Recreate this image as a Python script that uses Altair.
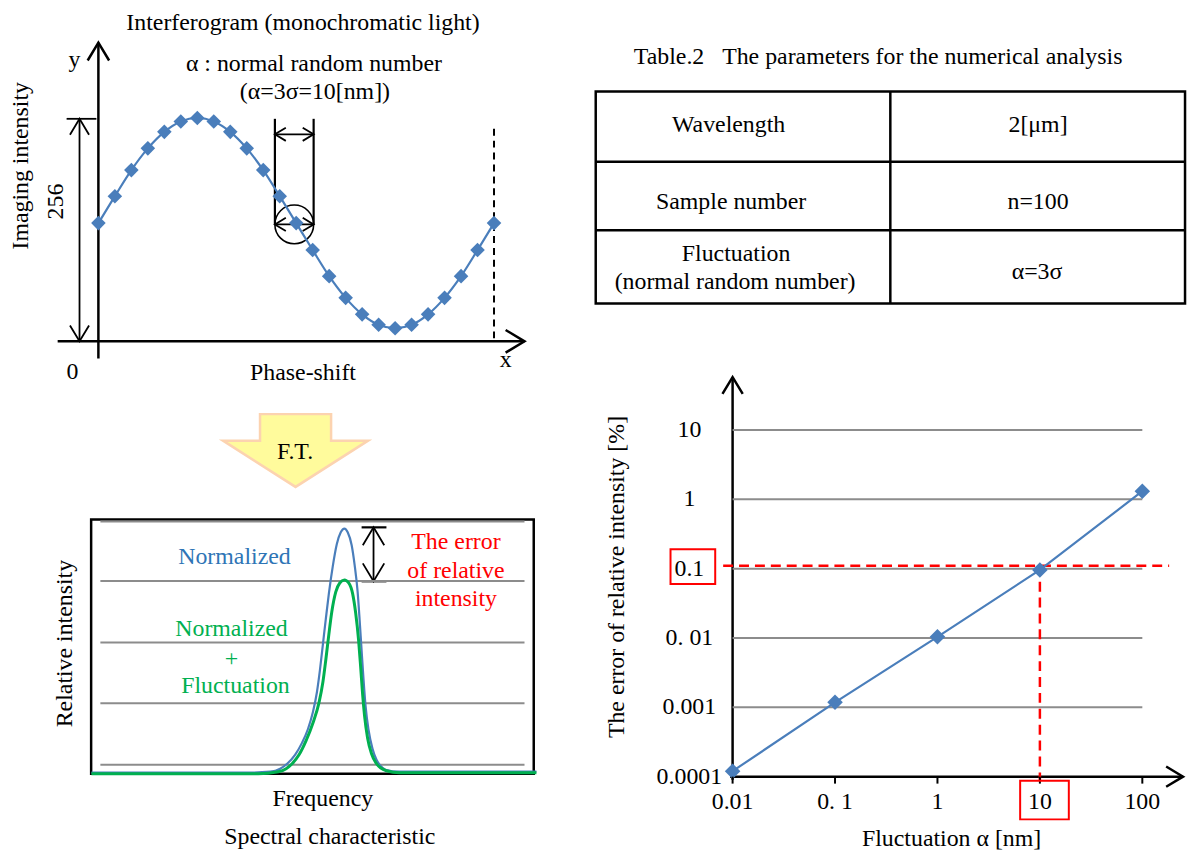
import altair as alt
import pandas as pd

FONT = "Liberation Serif"
BLUE = "#4A7EBB"
GREEN = "#00B050"
RED = "#FF0000"
GRIDC = "#8C8C8C"
TXT_BLUE = "#2E75B6"

# ---------------- data ----------------
# Interferogram (monochromatic light): sampled imaging intensity (0-256 scale)
phase_step = [0, 1, 2, 3, 4, 5, 6, 7, 8, 9, 10, 11, 12, 13, 14, 15, 16, 17, 18, 19, 20, 21, 22, 23, 24]
imaging_intensity = [136, 167, 197, 222, 241, 253, 257, 253, 241, 222, 197, 167, 136,
                     105, 75, 50, 31, 19, 15, 19, 31, 50, 75, 105, 136]

# Spectral characteristic (frequency / relative intensity, arbitrary units)
freq_normalized = [0, 158, 180, 190, 197, 205, 212, 218, 223, 227, 230, 233, 236, 239, 243, 247, 251, 254.7,
                   258, 262, 265, 268, 270, 272, 274, 276, 279, 283, 287, 291, 296, 310, 448]
int_normalized = [1, 1, 2, 5, 10, 19, 31, 45, 62, 82, 104, 130, 156, 181, 209, 231, 243, 246.7,
                  243, 230, 210, 183, 155, 124, 94, 68, 44, 25, 14, 8, 4, 2, 2]
freq_fluct = [0, 168, 188, 196, 202, 209, 216, 223, 229, 233, 236, 239, 242, 246, 250, 254.7,
              259, 263, 266, 269, 271, 273, 275, 278, 282, 287, 291, 297, 310, 448]
int_fluct = [0, 0, 2, 5, 10, 19, 33, 51, 71, 92, 115, 140, 163, 183, 192, 195,
             192, 181, 162, 134, 108, 80, 58, 36, 20, 10, 6, 3, 1, 1]
spectral_grid = [9, 71, 132, 194, 254]
spectral_grid_span = [9, 436]

# Error of relative intensity vs fluctuation
fluctuation_nm = [0.01, 0.1, 1, 10, 100]
error_percent = [0.00012, 0.00118, 0.0104, 0.096, 1.31]
error_grid = [0.001, 0.01, 0.1, 1, 10]
grid_x_span = [0.01, 100]
x_tick_vals = [0.01, 0.1, 1, 10, 100]
x_tick_labels = ["0.01", "0. 1", "1", "10", "100"]
y_tick_vals = [0.0001, 0.001, 0.01, 0.1, 1, 10]
y_tick_labels = ["0.0001", "0.001", "0. 01", "0.1", "1", "10"]
threshold_error = 0.11
threshold_alpha = 10

# Table
table_title = "Table.2\u00a0\u00a0\u00a0The parameters for the numerical analysis"
table_params = ["Wavelength", "Sample number", "Fluctuation", "(normal random number)"]
table_values = ["2[\u03bcm]", "n=100", "\u03b1=3\u03c3"]

# ---------------- layout helpers ----------------
PAGE_W, PAGE_H, M = 1198, 855, 8


def px(v):
    return v - M


def CX():
    return alt.Scale(domain=[0, PAGE_W], range=[-M, PAGE_W - M], nice=False, zero=False)


def CY():
    return alt.Scale(domain=[0, PAGE_H], range=[-M, PAGE_H - M], nice=False, zero=False)


def seg_layer(rows, color, dash=None):
    df = pd.DataFrame(rows, columns=["x", "y", "x2", "y2", "sw"])
    kw = dict(color=color)
    if dash:
        kw["strokeDash"] = dash
    return alt.Chart(df).mark_rule(**kw).encode(
        x=alt.X("x:Q", scale=CX(), axis=None), x2="x2:Q",
        y=alt.Y("y:Q", scale=CY(), axis=None), y2="y2:Q",
        strokeWidth=alt.StrokeWidth("sw:Q", scale=None),
    )


def rect_layer(rows, color, sw):
    df = pd.DataFrame(rows, columns=["x", "y", "x2", "y2"])
    return alt.Chart(df).mark_rect(fillOpacity=0, stroke=color, strokeWidth=sw).encode(
        x=alt.X("x:Q", scale=CX(), axis=None), x2="x2:Q",
        y=alt.Y("y:Q", scale=CY(), axis=None), y2="y2:Q",
    )


# black solid segments (axes, arrow shafts, table lines)
black_segments = [
    (99, 40, 99, 358, 2.5), (58, 340.7, 528, 340.7, 2.5),
    (80, 116.7, 80, 340.7, 1.8), (67, 116.7, 97, 116.7, 1.8),
    (276.7, 116.7, 276.7, 223, 2.2), (315.7, 116.7, 315.7, 223, 2.2),
    (276.7, 132.3, 315.7, 132.3, 1.8), (276.7, 223, 315.7, 223, 1.8),
    (376, 528, 376, 582.3, 1.8), (364, 528, 389, 528, 2.2), (364, 582.3, 389, 582.3, 2.2),
    (896.3, 89.3, 896.3, 302.7, 2.5), (599.7, 160, 1193, 160, 2.5), (599.7, 229, 1193, 229, 2.5),
    (737.5, 376.7, 737.5, 782, 2.5), (735, 779, 1191, 779, 2.5),
]
dashed_segments = [(497.3, 126.7, 497.3, 340.7, 2)]
black_rects = [(599.7, 89.3, 1193, 302.7), (91.7, 520, 537.3, 776)]
red_rects = [(675, 550, 720, 585), (1027, 783, 1076, 822)]

CHEVRON = "M-0.6,1L0,0L0.6,1"
chevrons = pd.DataFrame([
    (99, 40, 0, 1296, 2.5), (528, 340.7, 90, 1444, 2.5),
    (80, 116.7, 0, 1024, 1.8), (80, 340.7, 180, 1024, 1.8),
    (276.7, 132.3, 270, 484, 1.8), (315.7, 132.3, 90, 484, 1.8),
    (276.7, 223, 270, 484, 1.8), (315.7, 223, 90, 484, 1.8),
    (376, 528, 0, 1296, 1.8), (376, 582.3, 180, 1296, 1.8),
    (737.5, 376.7, 0, 1156, 2.5), (1191, 779, 90, 1156, 2.5),
], columns=["x", "y", "ang", "s", "sw"])

chev_layer = alt.Chart(chevrons).mark_point(shape=CHEVRON, filled=False, color="black", opacity=1).encode(
    x=alt.X("x:Q", scale=CX(), axis=None), y=alt.Y("y:Q", scale=CY(), axis=None),
    angle=alt.Angle("ang:Q", scale=None), size=alt.Size("s:Q", scale=None),
    strokeWidth=alt.StrokeWidth("sw:Q", scale=None),
)

circle_layer = alt.Chart(pd.DataFrame({"x": [296.2], "y": [223]})).mark_point(
    shape="circle", filled=False, color="black", size=1521, strokeWidth=1.6, opacity=1
).encode(x=alt.X("x:Q", scale=CX(), axis=None), y=alt.Y("y:Q", scale=CY(), axis=None))

FT_PATH = "M-0.49,-0.5L0.49,-0.5L0.49,-0.134L1,-0.134L0,0.504L-1,-0.134L-0.49,-0.134Z"
ft_layer = alt.Chart(pd.DataFrame({"x": [297.5], "y": [450.5]})).mark_point(
    shape=FT_PATH, filled=True, fill="#FFFB9C", stroke="#FCD3B0", strokeWidth=2.5,
    size=21316, opacity=1, fillOpacity=1
).encode(x=alt.X("x:Q", scale=CX(), axis=None), y=alt.Y("y:Q", scale=CY(), axis=None))

# texts: (x, y, text, size, color, angle)
texts = [
    (305, 20, "Interferogram (monochromatic light)", 24, "black", 0),
    (75, 58, "y", 24, "black", 0),
    (316, 62, "\u03b1 : normal random number", 24, "black", 0),
    (317, 90, "(\u03b1=3\u03c3=10[nm])", 24, "black", 0),
    (21, 164, "Imaging intensity", 24, "black", 270),
    (56, 200, "256", 24, "black", 270),
    (73, 372, "0", 24, "black", 0),
    (305, 373, "Phase-shift", 24, "black", 0),
    (509, 360, "x", 24, "black", 0),
    (884, 55, table_title, 24, "black", 0),
    (733.5, 123, table_params[0], 24, "black", 0),
    (736, 200.5, table_params[1], 24, "black", 0),
    (741, 252.7, table_params[2], 24, "black", 0),
    (740, 280.7, table_params[3], 24, "black", 0),
    (1045, 123, table_values[0], 24, "black", 0),
    (1045, 200.5, table_values[1], 24, "black", 0),
    (1044, 270.7, table_values[2], 24, "black", 0),
    (297, 452, "F.T.", 24, "black", 0),
    (236, 558, "Normalized", 24, TXT_BLUE, 0),
    (233, 630, "Normalized", 24, GREEN, 0),
    (233, 661, "+", 24, GREEN, 0),
    (237, 688, "Fluctuation", 24, GREEN, 0),
    (459, 543, "The error", 24, RED, 0),
    (459, 572, "of relative", 24, RED, 0),
    (459, 600, "intensity", 24, RED, 0),
    (65, 645, "Relative intensity", 24, "black", 270),
    (325, 802, "Frequency", 24, "black", 0),
    (332, 840, "Spectral characteristic", 24, "black", 0),
    (621, 578, "The error of relative intensity [%]", 24, "black", 270),
    (958, 842, "Fluctuation \u03b1 [nm]", 24, "black", 0),
]
text_df = pd.DataFrame(texts, columns=["x", "y", "t", "fs", "col", "ang"])
text_layer = alt.Chart(text_df).mark_text(font=FONT, baseline="middle", align="center").encode(
    x=alt.X("x:Q", scale=CX(), axis=None), y=alt.Y("y:Q", scale=CY(), axis=None),
    text="t:N", size=alt.Size("fs:Q", scale=None), color=alt.Color("col:N", scale=None),
    angle=alt.Angle("ang:Q", scale=None),
)

# ---------------- interferogram ----------------
ix = alt.Scale(domain=[0, 24], range=[px(99), px(497.3)], nice=False, zero=False)
iy = alt.Scale(domain=[0, 256], range=[px(340.7), px(116.7)], nice=False, zero=False)
interf = alt.Chart(pd.DataFrame({"k": phase_step, "I": imaging_intensity})).mark_line(
    color=BLUE, strokeWidth=2.2, interpolate="monotone",
    point=alt.OverlayMarkDef(shape="diamond", size=215, filled=True, color=BLUE, opacity=1),
).encode(x=alt.X("k:Q", scale=ix, axis=None), y=alt.Y("I:Q", scale=iy, axis=None))

# ---------------- spectral ----------------
sx = alt.Scale(domain=[0, 448], range=[px(92), px(540)], nice=False, zero=False)
sy = alt.Scale(domain=[0, 256], range=[px(776), px(520)], nice=False, zero=False)
sgrid = alt.Chart(pd.DataFrame({"g": spectral_grid, "f0": spectral_grid_span[0], "f1": spectral_grid_span[1]})).mark_rule(
    color=GRIDC, strokeWidth=2).encode(
    x=alt.X("f0:Q", scale=sx, axis=None), x2="f1:Q", y=alt.Y("g:Q", scale=sy, axis=None))
sblue = alt.Chart(pd.DataFrame({"f": freq_normalized, "v": int_normalized})).mark_line(
    color=BLUE, strokeWidth=2.2, interpolate="monotone").encode(
    x=alt.X("f:Q", scale=sx, axis=None), y=alt.Y("v:Q", scale=sy, axis=None))
sgreen = alt.Chart(pd.DataFrame({"f": freq_fluct, "v": int_fluct})).mark_line(
    color=GREEN, strokeWidth=3, interpolate="monotone").encode(
    x=alt.X("f:Q", scale=sx, axis=None), y=alt.Y("v:Q", scale=sy, axis=None))
spectral = alt.layer(sgrid, sblue, sgreen)

# ---------------- error vs fluctuation (log-log) ----------------
lx = alt.Scale(type="log", domain=[0.01, 100], range=[px(737.5), px(1150)], nice=False)
ly = alt.Scale(type="log", domain=[0.0001, 10], range=[px(779), px(430)], nice=False)
lgrid = alt.Chart(pd.DataFrame({"g": error_grid, "a0": grid_x_span[0], "a1": grid_x_span[1]})).mark_rule(
    color=GRIDC, strokeWidth=2).encode(
    x=alt.X("a0:Q", scale=lx, axis=None), x2="a1:Q", y=alt.Y("g:Q", scale=ly, axis=None))
red_h = alt.Chart(pd.DataFrame({"t": [threshold_error]})).mark_rule(
    color=RED, strokeWidth=2.5, strokeDash=[10, 6]).encode(
    y=alt.Y("t:Q", scale=ly, axis=None), x=alt.value(px(728)), x2=alt.value(px(1177)))
red_v = alt.Chart(pd.DataFrame({"a": [threshold_alpha], "t": [threshold_error]})).mark_rule(
    color=RED, strokeWidth=2.5, strokeDash=[10, 6]).encode(
    x=alt.X("a:Q", scale=lx, axis=None), y=alt.Y("t:Q", scale=ly, axis=None), y2=alt.value(px(783)))
lline = alt.Chart(pd.DataFrame({"a": fluctuation_nm, "e": error_percent})).mark_line(
    color=BLUE, strokeWidth=2.2,
    point=alt.OverlayMarkDef(shape="diamond", size=245, filled=True, color=BLUE, opacity=1),
).encode(x=alt.X("a:Q", scale=lx, axis=None), y=alt.Y("e:Q", scale=ly, axis=None))
xticks = alt.Chart(pd.DataFrame({"a": x_tick_vals})).mark_rule(color="black", strokeWidth=2).encode(
    x=alt.X("a:Q", scale=lx, axis=None), y=alt.value(px(779)), y2=alt.value(px(786)))
xlabels = alt.Chart(pd.DataFrame({"a": x_tick_vals, "t": x_tick_labels})).mark_text(
    font=FONT, fontSize=24, baseline="middle", align="center", color="black").encode(
    x=alt.X("a:Q", scale=lx, axis=None), y=alt.value(px(805)), text="t:N")
ylabels = alt.Chart(pd.DataFrame({"e": y_tick_vals, "t": y_tick_labels})).mark_text(
    font=FONT, fontSize=24, baseline="middle", align="center", color="black").encode(
    y=alt.Y("e:Q", scale=ly, axis=None), x=alt.value(px(694)), text="t:N")
logplot = alt.layer(lgrid, red_h, red_v, lline, xticks, xlabels, ylabels)

chart = alt.layer(
    rect_layer(black_rects, "black", 2.5),
    seg_layer(black_segments, "black"),
    seg_layer(dashed_segments, "black", dash=[7, 5]),
    chev_layer,
    circle_layer,
    ft_layer,
    interf,
    spectral,
    logplot,
    rect_layer(red_rects, RED, 2),
    text_layer,
).resolve_scale(x="independent", y="independent").properties(
    width=PAGE_W - M, height=PAGE_H - M,
    autosize=alt.AutoSizeParams(type="none"), padding=0,
).configure_view(stroke=None)

chart.save("out.html", embed_options={"renderer": "svg", "actions": False})
